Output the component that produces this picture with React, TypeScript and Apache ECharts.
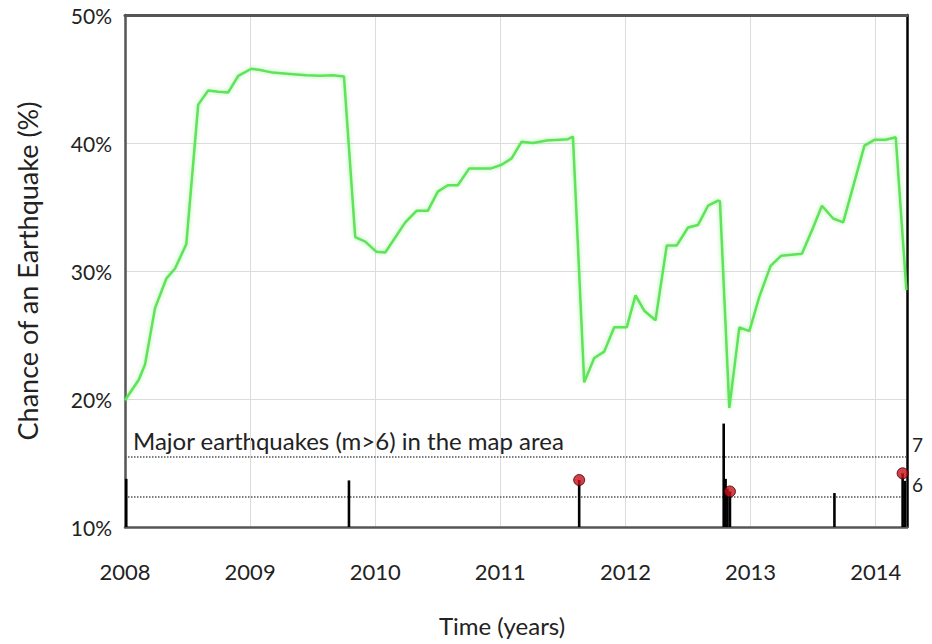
import React, { useEffect, useRef } from "react";
import * as echarts from "echarts";

// Chance of an earthquake (%) over time (decimal years)
const chanceYears = [
  2008.0, 2008.11, 2008.16, 2008.24, 2008.33, 2008.4, 2008.49, 2008.585, 2008.665, 2008.745,
  2008.825, 2008.905, 2009.01, 2009.08, 2009.18, 2009.32, 2009.45, 2009.56, 2009.66, 2009.75,
  2009.84, 2009.92, 2010.01, 2010.08, 2010.24, 2010.33, 2010.42, 2010.5, 2010.58, 2010.66,
  2010.75, 2010.92, 2011.01, 2011.09, 2011.17, 2011.26, 2011.37, 2011.54, 2011.58, 2011.67,
  2011.75, 2011.83, 2011.91, 2012.01, 2012.08, 2012.15, 2012.24, 2012.33, 2012.41, 2012.5,
  2012.58, 2012.66, 2012.74, 2012.755, 2012.83, 2012.91, 2012.99, 2013.07, 2013.16, 2013.245,
  2013.41, 2013.5, 2013.57, 2013.66, 2013.74, 2013.91, 2013.99, 2014.08, 2014.16, 2014.245,
];
const chanceValues = [
  19.9, 21.5, 22.7, 27.1, 29.4, 30.2, 32.1, 43.0, 44.1, 44.0,
  43.95, 45.25, 45.8, 45.7, 45.5, 45.4, 45.3, 45.25, 45.3, 45.2,
  32.65, 32.3, 31.5, 31.45, 33.8, 34.7, 34.7, 36.2, 36.7, 36.7,
  38.0, 38.0, 38.3, 38.8, 40.1, 40.0, 40.2, 40.3, 40.5, 21.3,
  23.2, 23.7, 25.6, 25.6, 28.1, 26.9, 26.15, 32.0, 32.0, 33.4,
  33.6, 35.1, 35.5, 35.45, 19.3, 25.6, 25.3, 28.0, 30.4, 31.2,
  31.35, 33.4, 35.1, 34.1, 33.8, 39.8, 40.25, 40.25, 40.45, 28.5,
];

// Major earthquakes (m>6): time and magnitude
const quakeYears = [2008.01, 2009.79, 2011.63, 2012.785, 2012.8, 2012.815, 2012.835, 2013.67, 2014.215, 2014.232];
const quakeMags = [6.45, 6.41, 6.42, 7.85, 6.45, 6.2, 6.13, 6.09, 6.59, 6.4];
// Earthquakes marked with a red dot
const dotYears = [2011.63, 2012.835, 2014.215];
const dotMags = [6.42, 6.13, 6.59];

const magnitudeRefLines = [6, 7];
const yTicks = { min: 10, max: 50, interval: 10 };
const xRange = { min: 2008, max: 2014.25, interval: 1 };
const magRange = { min: 5.23, max: 18.2 };

const FONT = "Lato, 'Open Sans', sans-serif";

export default function App() {
  const ref = useRef<HTMLDivElement>(null);

  useEffect(() => {
    if (!ref.current) return;
    const chart = echarts.init(ref.current, undefined, { renderer: "svg" });

    const lineData = chanceYears.map((y, i) => [y, chanceValues[i]]);
    const quakeData = quakeYears.map((y, i) => [y, quakeMags[i]]);
    const dotData = dotYears.map((y, i) => [y, dotMags[i]]);

    const yearLabel = (v: number) => (Math.abs(v - Math.round(v)) < 1e-6 ? String(Math.round(v)) : "");

    chart.setOption({
      animation: false,
      backgroundColor: "#ffffff",
      textStyle: { fontFamily: FONT },
      grid: {
        left: 125,
        right: 25,
        top: 15,
        bottom: 117,
        show: false,
      },
      xAxis: [
        {
          type: "value",
          min: xRange.min,
          max: xRange.max,
          interval: xRange.interval,
          name: "Time (years)",
          nameLocation: "middle",
          nameGap: 86,
          nameTextStyle: { fontSize: 24, color: "#222", fontFamily: FONT, padding: [0, 28, 0, 0] },
          axisLine: { show: true, lineStyle: { color: "#555", width: 2.5 } },
          axisTick: { show: false },
          axisLabel: { fontSize: 22, color: "#222", margin: 33, fontFamily: FONT, formatter: yearLabel },
          splitLine: { show: true, lineStyle: { color: "#dcdcdc", width: 1 } },
          z: 3,
        },
        {
          type: "value",
          position: "top",
          min: xRange.min,
          max: xRange.max,
          interval: xRange.interval,
          axisLine: { show: true, lineStyle: { color: "#555", width: 3 } },
          axisTick: { show: false },
          axisLabel: { show: false },
          splitLine: { show: false },
          z: 3,
        },
      ],
      yAxis: [
        {
          type: "value",
          min: yTicks.min,
          max: yTicks.max,
          interval: yTicks.interval,
          name: "Chance of an Earthquake (%)",
          nameLocation: "middle",
          nameGap: 84,
          nameTextStyle: { fontSize: 27, color: "#222", fontFamily: FONT },
          axisLine: { show: true, lineStyle: { color: "#555", width: 2.5 } },
          axisTick: { show: false },
          axisLabel: { fontSize: 21, color: "#222", margin: 13, fontFamily: FONT, formatter: "{value}%" },
          splitLine: { show: true, lineStyle: { color: "#dcdcdc", width: 1 } },
          z: 3,
        },
        {
          type: "value",
          min: magRange.min,
          max: magRange.max,
          position: "right",
          axisLine: { show: true, onZero: false, lineStyle: { color: "#000", width: 2.5 } },
          axisTick: { show: false },
          axisLabel: { show: false },
          splitLine: { show: false },
          z: 3,
        },
      ],
      graphic: [
        {
          type: "text",
          left: 133,
          top: 428,
          silent: true,
          style: {
            text: "Major earthquakes (m>6) in the map area",
            fontSize: 24,
            fontFamily: FONT,
            fill: "#222",
          },
        },
      ],
      series: [
        {
          type: "line",
          data: lineData,
          showSymbol: false,
          symbol: "none",
          lineStyle: {
            color: "#5fe35a",
            width: 2.5,
            shadowColor: "rgba(110,235,100,0.6)",
            shadowBlur: 4,
          },
          z: 5,
        },
        {
          type: "custom",
          yAxisIndex: 1,
          data: quakeData,
          renderItem: (params: any, api: any) => {
            const x = api.value(0);
            const m = api.value(1);
            const top = api.coord([x, m]);
            const base = api.coord([x, magRange.min]);
            return {
              type: "line",
              shape: { x1: top[0], y1: top[1], x2: base[0], y2: base[1] },
              style: { stroke: "#000", lineWidth: 2.6 },
            };
          },
          z: 6,
        },
        {
          type: "scatter",
          yAxisIndex: 1,
          data: dotData,
          symbol: "circle",
          symbolSize: 11,
          itemStyle: { color: "#c8101a", borderColor: "#3a0000", borderWidth: 1 },
          z: 7,
          markLine: {
            silent: true,
            symbol: "none",
            animation: false,
            lineStyle: { type: "dotted", color: "#555", width: 1.5 },
            label: {
              show: true,
              position: "end",
              distance: 5,
              fontSize: 19,
              color: "#222",
              fontFamily: FONT,
              verticalAlign: "bottom",
              padding: [0, 0, 3, 0],
              formatter: (p: any) => String(p.value),
            },
            data: magnitudeRefLines.map((v) => ({ yAxis: v })),
          },
        },
      ],
    });

    return () => chart.dispose();
  }, []);

  return (
    <div
      ref={ref}
      style={{ position: "fixed", left: 0, top: 0, width: 932, height: 644, background: "#fff" }}
    />
  );
}
